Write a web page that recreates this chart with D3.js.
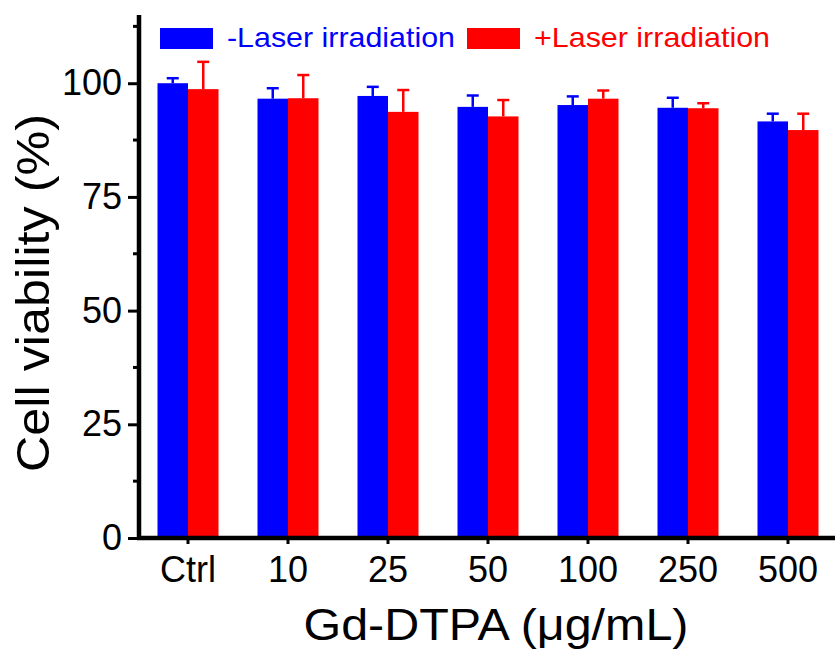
<!DOCTYPE html>
<html>
<head>
<meta charset="utf-8">
<script src="https://cdn.jsdelivr.net/npm/d3@7"></script>
<style>
  body { margin: 0; background: #fff; }
  svg { display: block; font-family: "Liberation Sans", Arial, sans-serif; }
</style>
</head>
<body>
<script>
// concentrations on the x axis
const categories = ["Ctrl", "10", "25", "50", "100", "250", "500"];
// cell viability (%) and error, without laser
const minusLaser = [100, 96.6, 97.2, 94.8, 95.2, 94.6, 91.6];
const minusErr = [1.1, 2.3, 2.0, 2.5, 1.9, 2.2, 1.7];
// cell viability (%) and error, with laser
const plusLaser = [98.7, 96.7, 93.7, 92.7, 96.6, 94.5, 89.7];
const plusErr = [6.0, 5.1, 4.8, 3.6, 1.8, 1.1, 3.6];
const seriesNames = ["-Laser irradiation", "+Laser irradiation"];
const yTicks = [0, 25, 50, 75, 100];

const width = 835, height = 651;
const colors = ["#0000ff", "#ff0000"];

const svg = d3.select("body").append("svg")
  .attr("width", width)
  .attr("height", height);

const x = d3.scaleBand()
  .domain(categories)
  .range([138, 838])
  .paddingInner(0.39)
  .paddingOuter(0.195);

const xs = d3.scaleBand()
  .domain([0, 1])
  .range([0, x.bandwidth()]);

const y = d3.scaleLinear()
  .domain([0, 115])
  .range([538, 15]);

// build rows for both series
const rows = [];
categories.forEach((c, i) => {
  rows.push({ cat: c, s: 0, v: minusLaser[i], e: minusErr[i] });
  rows.push({ cat: c, s: 1, v: plusLaser[i], e: plusErr[i] });
});

// bars
svg.append("g").selectAll("rect")
  .data(rows)
  .join("rect")
  .attr("x", d => x(d.cat) + xs(d.s))
  .attr("y", d => y(d.v))
  .attr("width", xs.bandwidth())
  .attr("height", d => y(0) - y(d.v))
  .attr("fill", d => colors[d.s]);

// error bars (upper only)
const err = svg.append("g").selectAll("g")
  .data(rows)
  .join("g")
  .attr("stroke", d => colors[d.s])
  .attr("stroke-width", 2.5);
err.append("line")
  .attr("x1", d => x(d.cat) + xs(d.s) + xs.bandwidth() / 2)
  .attr("x2", d => x(d.cat) + xs(d.s) + xs.bandwidth() / 2)
  .attr("y1", d => y(d.v))
  .attr("y2", d => y(d.v + d.e));
err.append("line")
  .attr("x1", d => x(d.cat) + xs(d.s) + xs.bandwidth() / 2 - 6)
  .attr("x2", d => x(d.cat) + xs(d.s) + xs.bandwidth() / 2 + 6)
  .attr("y1", d => y(d.v + d.e))
  .attr("y2", d => y(d.v + d.e));

// y axis: major ticks with labels, minor ticks between
const yAxis = svg.append("g").attr("transform", "translate(139,0)");
yAxis.call(d3.axisLeft(y).tickValues(yTicks).tickSize(11).tickPadding(6))
  .call(g => g.select(".domain").remove());
yAxis.selectAll(".tick line").attr("stroke", "#000").attr("stroke-width", 3);
yAxis.selectAll(".tick text")
  .attr("font-size", 36)
  .attr("fill", "#000")
  .attr("font-family", "Liberation Sans, Arial, sans-serif");
const minor = d3.range(12.5, 115, 25);
yAxis.selectAll(".minor")
  .data(minor)
  .join("line")
  .attr("class", "minor")
  .attr("x1", -6).attr("x2", 0)
  .attr("y1", d => y(d)).attr("y2", d => y(d))
  .attr("stroke", "#000").attr("stroke-width", 3);
yAxis.append("line")
  .attr("x1", 0).attr("x2", 0)
  .attr("y1", y(115)).attr("y2", y(0) + 2)
  .attr("stroke", "#000").attr("stroke-width", 4.5);

// x axis
const xAxis = svg.append("g").attr("transform", "translate(0," + y(0) + ")");
xAxis.call(d3.axisBottom(x).tickSize(6).tickPadding(12))
  .call(g => g.select(".domain").remove());
xAxis.selectAll(".tick line").attr("stroke", "#000").attr("stroke-width", 3);
xAxis.selectAll(".tick text")
  .attr("font-size", 36)
  .attr("fill", "#000")
  .attr("font-family", "Liberation Sans, Arial, sans-serif");
xAxis.append("line")
  .attr("x1", 137).attr("x2", width)
  .attr("y1", 0).attr("y2", 0)
  .attr("stroke", "#000").attr("stroke-width", 4.5);

// axis titles
svg.append("text")
  .attr("transform", "translate(49,293) rotate(-90)")
  .attr("text-anchor", "middle")
  .attr("font-size", 46)
  .attr("textLength", 358)
  .attr("lengthAdjust", "spacingAndGlyphs")
  .text("Cell viability (%)");
svg.append("text")
  .attr("x", 496)
  .attr("y", 640)
  .attr("text-anchor", "middle")
  .attr("font-size", 44)
  .attr("textLength", 385)
  .attr("lengthAdjust", "spacingAndGlyphs")
  .text("Gd-DTPA (\u03bcg/mL)");

// legend
const legendX = [160, 467];
const legendLen = [228, 236];
const legend = svg.append("g").selectAll("g")
  .data(seriesNames)
  .join("g")
  .attr("transform", (d, i) => "translate(" + legendX[i] + ",28)");
legend.append("rect")
  .attr("width", 53).attr("height", 21)
  .attr("fill", (d, i) => colors[i]);
legend.append("text")
  .attr("x", 67).attr("y", 19)
  .attr("font-size", 28)
  .attr("fill", (d, i) => colors[i])
  .attr("textLength", (d, i) => legendLen[i])
  .attr("lengthAdjust", "spacingAndGlyphs")
  .text(d => d);
</script>
</body>
</html>
